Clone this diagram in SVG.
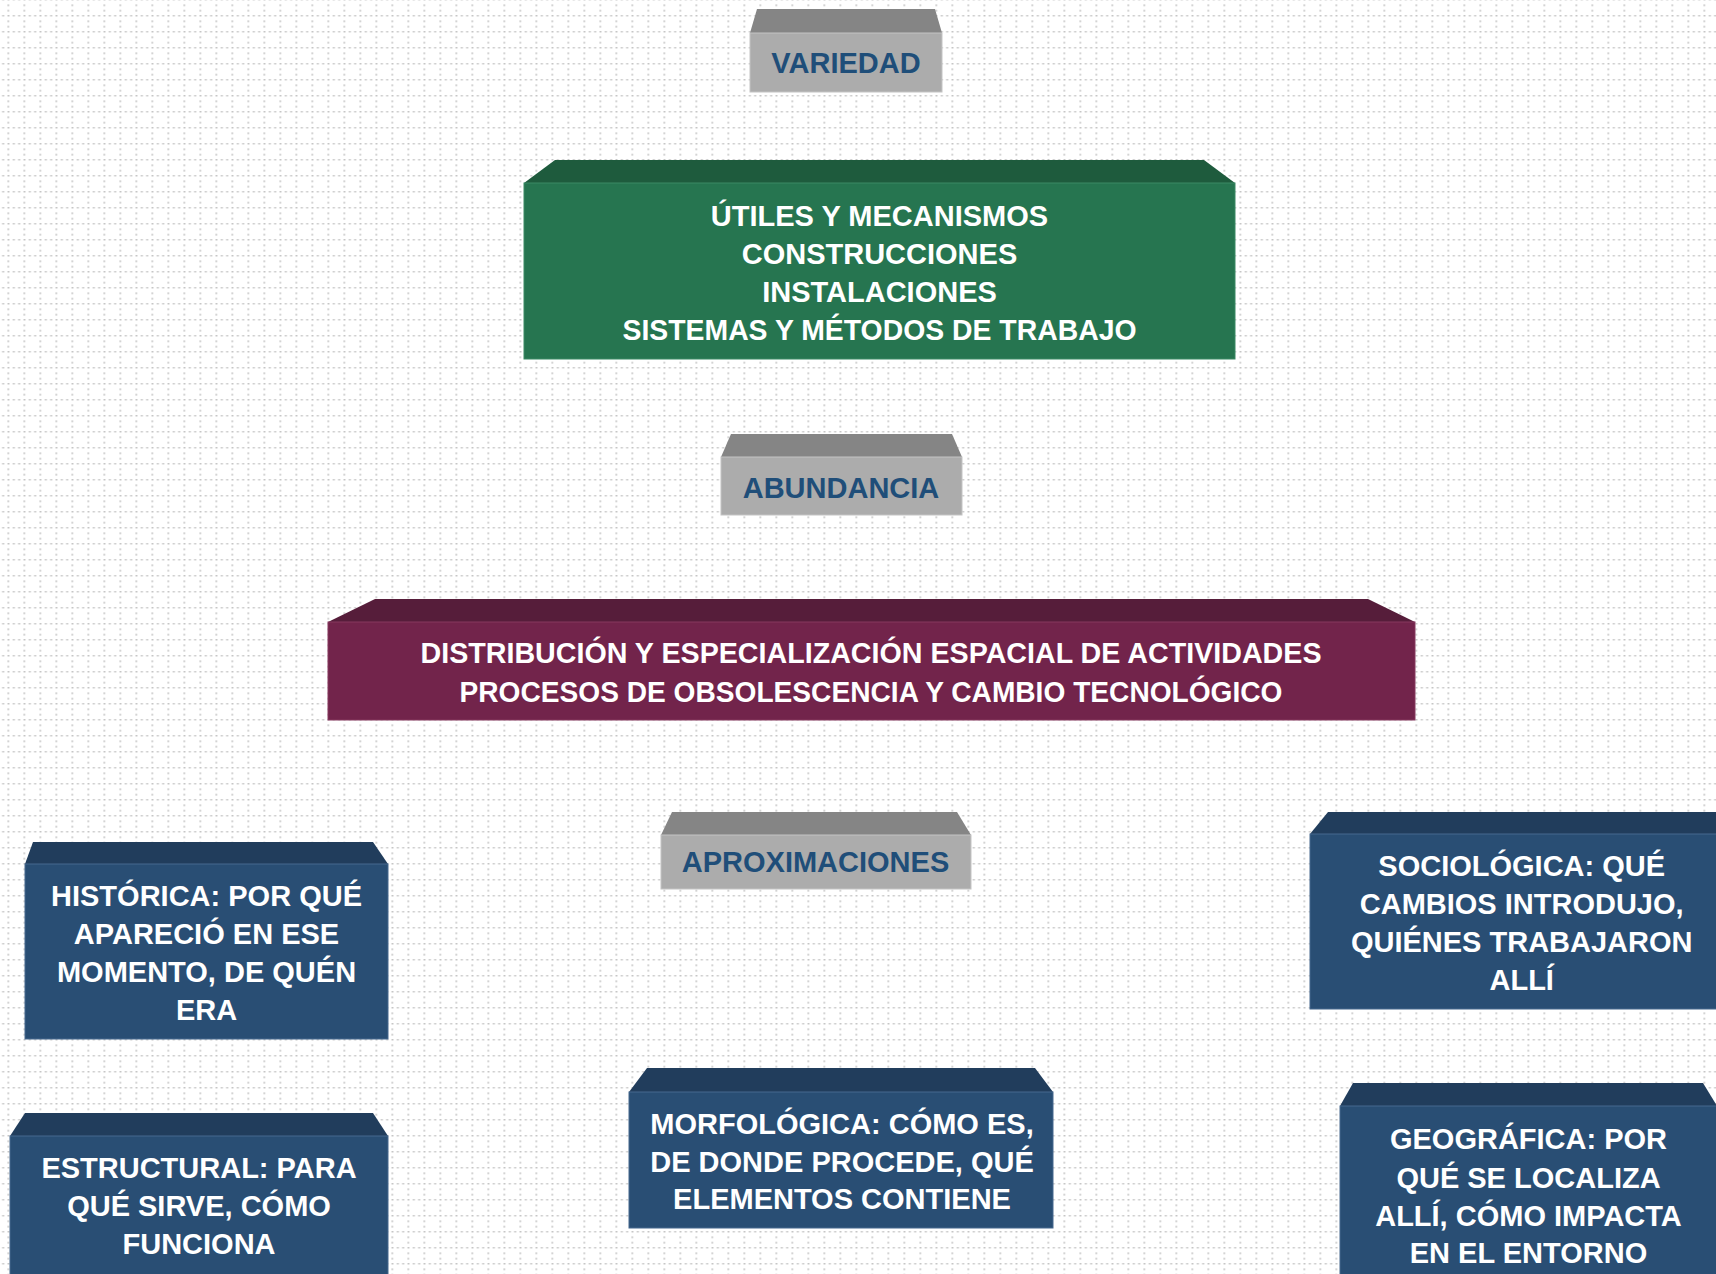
<svg xmlns="http://www.w3.org/2000/svg" width="1716" height="1274" viewBox="0 0 1716 1274">
<defs>
<pattern id="grid" patternUnits="userSpaceOnUse" x="7.5" y="15" width="16" height="16">
<rect x="0" y="0" width="2" height="1.5" fill="#c6c6c6"/>
<rect x="5.33" y="0" width="2" height="1.5" fill="#c6c6c6"/>
<rect x="10.67" y="0" width="2" height="1.5" fill="#c6c6c6"/>
<rect x="0" y="5.33" width="1.5" height="2" fill="#c6c6c6"/>
<rect x="0" y="10.67" width="1.5" height="2" fill="#c6c6c6"/>
</pattern>
<style>
text{font-family:"Liberation Sans",Arial,sans-serif;font-weight:bold;font-size:29px;text-anchor:middle}
.gt{fill:#1f4e79}
.wt{fill:#ffffff}
.gTop{fill:#858585}.gFront{fill:#acacac;stroke:#c4c4c4;stroke-width:1}
.vTop{fill:#1e5b3d}.vFront{fill:#267550;stroke:#3a8a64;stroke-width:1}
.mTop{fill:#561d3a}.mFront{fill:#72244b;stroke:#86395f;stroke-width:1}
.bTop{fill:#213d5c}.bFront{fill:#294e74;stroke:#46698e;stroke-width:1}
</style>
</defs>
<rect x="0" y="0" width="1716" height="1274" fill="#ffffff"/>
<rect x="0" y="0" width="1716" height="1274" fill="url(#grid)"/>

<g id="connectors"></g>

<g id="variedad">
<polygon class="gTop" points="757,9 935,9 942,33 750,33"/>
<rect class="gFront" x="750" y="33" width="192" height="59"/>
<text class="gt" x="846" y="73">VARIEDAD</text>
</g>

<g id="utiles">
<polygon class="vTop" points="555,160 1204,160 1235,183 524,183"/>
<rect class="vFront" x="524" y="183" width="711" height="176"/>
<text class="wt" x="879.5" y="225.5">ÚTILES Y MECANISMOS</text>
<text class="wt" x="879.5" y="263.8">CONSTRUCCIONES</text>
<text class="wt" x="879.5" y="302">INSTALACIONES</text>
<text class="wt" x="879.5" y="340.4" textLength="514" lengthAdjust="spacingAndGlyphs">SISTEMAS Y MÉTODOS DE TRABAJO</text>
</g>

<g id="abundancia">
<polygon class="gTop" points="731,434 952,434 962,457 721,457"/>
<rect class="gFront" x="721" y="457" width="241" height="58"/>
<text class="gt" x="841" y="498">ABUNDANCIA</text>
</g>

<g id="distribucion">
<polygon class="mTop" points="375,599 1368,599 1415,622 328,622"/>
<rect class="mFront" x="328" y="622" width="1087" height="98"/>
<text class="wt" x="871" y="663" textLength="901" lengthAdjust="spacingAndGlyphs">DISTRIBUCIÓN Y ESPECIALIZACIÓN ESPACIAL DE ACTIVIDADES</text>
<text class="wt" x="871" y="701.5" textLength="823" lengthAdjust="spacingAndGlyphs">PROCESOS DE OBSOLESCENCIA Y CAMBIO TECNOLÓGICO</text>
</g>

<g id="aproximaciones">
<polygon class="gTop" points="672,812 957,812 971,835 661,835"/>
<rect class="gFront" x="661" y="835" width="310" height="54"/>
<text class="gt" x="815.5" y="872">APROXIMACIONES</text>
</g>

<g id="historica">
<polygon class="bTop" points="33,842 373,842 388,864 25,864"/>
<rect class="bFront" x="25" y="864" width="363" height="175"/>
<text class="wt" x="206.5" y="906">HISTÓRICA: POR QUÉ</text>
<text class="wt" x="206.5" y="943.5">APARECIÓ EN ESE</text>
<text class="wt" x="206.5" y="981.7">MOMENTO, DE QUÉN</text>
<text class="wt" x="206.5" y="1020">ERA</text>
</g>

<g id="sociologica">
<polygon class="bTop" points="1328,812 1716,812 1740,834 1310,834"/>
<rect class="bFront" x="1310" y="834" width="430" height="175"/>
<text class="wt" x="1521.7" y="876">SOCIOLÓGICA: QUÉ</text>
<text class="wt" x="1521.7" y="913.5">CAMBIOS INTRODUJO,</text>
<text class="wt" x="1521.7" y="951.7">QUIÉNES TRABAJARON</text>
<text class="wt" x="1521.7" y="990">ALLÍ</text>
</g>

<g id="geografica">
<polygon class="bTop" points="1353,1083 1703,1083 1717,1106 1340,1106"/>
<rect class="bFront" x="1340" y="1106" width="377" height="180"/>
<text class="wt" x="1528.5" y="1149.3">GEOGRÁFICA: POR</text>
<text class="wt" x="1528.5" y="1188">QUÉ SE LOCALIZA</text>
<text class="wt" x="1528.5" y="1226">ALLÍ, CÓMO IMPACTA</text>
<text class="wt" x="1528.5" y="1263.3">EN EL ENTORNO</text>
</g>

<g id="estructural">
<polygon class="bTop" points="25,1113 373,1113 388,1136 10,1136"/>
<rect class="bFront" x="10" y="1136" width="378" height="150"/>
<text class="wt" x="199" y="1178.3">ESTRUCTURAL: PARA</text>
<text class="wt" x="199" y="1215.5">QUÉ SIRVE, CÓMO</text>
<text class="wt" x="199" y="1254">FUNCIONA</text>
</g>

<g id="morfologica">
<polygon class="bTop" points="647,1068 1035,1068 1053,1092 629,1092"/>
<rect class="bFront" x="629" y="1092" width="424" height="136"/>
<text class="wt" x="842" y="1134">MORFOLÓGICA: CÓMO ES,</text>
<text class="wt" x="842" y="1171.7">DE DONDE PROCEDE, QUÉ</text>
<text class="wt" x="842" y="1209">ELEMENTOS CONTIENE</text>
</g>
</svg>
